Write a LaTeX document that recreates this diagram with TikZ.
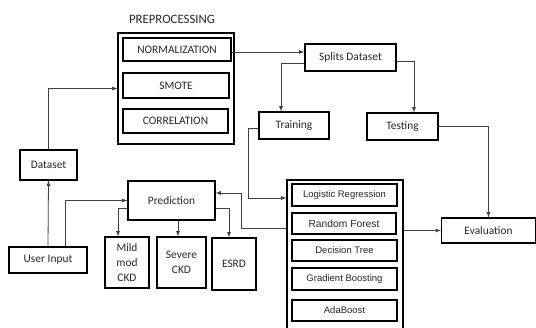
\documentclass[tikz,border=0pt]{standalone}
\usepackage{fontspec}
\setmainfont{Carlito}
\newfontfamily\arialfont{Liberation Sans}
\usepackage{tikz}

\begin{document}
\begin{tikzpicture}[x=1pt, y=-1pt,
    box/.style={draw, line width=1.2pt, inner sep=0pt, text=black!85, font=\fontsize{11.4}{15}\selectfont, align=center},
    mbox/.style={draw, line width=1.2pt, inner sep=0pt, text=black!85, font=\arialfont\fontsize{9.5}{11}\selectfont},
    arr/.style={->, >=latex, draw=black!75, line width=0.8pt}]
            \useasboundingbox (0,0) rectangle (536,327);

            % Nodes
            \node[text=black!85, font=\fontsize{12.8}{14}\selectfont] (preplabel) at (172, 19) {PREPROCESSING};
            \node[box, minimum width=116, minimum height=111] (prep) at (176, 88.5) {};
            \node[box, minimum width=108, minimum height=23] (norm) at (177, 49.5) {NORMALIZATION};
            \node[box, minimum width=106, minimum height=25] (smote) at (176, 85.5) {SMOTE};
            \node[box, minimum width=105, minimum height=24] (corr) at (175.5, 121) {CORRELATION};

            \node[box, minimum width=91, minimum height=27] (split) at (350.5, 57.5) {Splits Dataset};
            \node[box, minimum width=70, minimum height=27] (train) at (294, 125.5) {Training};
            \node[box, minimum width=71, minimum height=27] (test) at (402.5, 126.5) {Testing};

            \node[box, minimum width=57, minimum height=30] (dataset) at (48.5, 165) {Dataset};
            \node[box, minimum width=78, minimum height=26] (userin) at (48, 260) {User Input};
            \node[box, minimum width=87, minimum height=39] (pred) at (171.5, 200.5) {Prediction};
            \node[box, minimum width=44, minimum height=51] (mild) at (127, 262.5) {Mild\\mod\\CKD};
            \node[box, minimum width=49, minimum height=51] (severe) at (181.5, 262.5) {Severe\\CKD};
            \node[box, minimum width=44, minimum height=52] (esrd) at (234, 264) {ESRD};

            % models box runs off the bottom edge
            \node[box, minimum width=116, minimum height=152] (models) at (345, 256) {};
            \node[mbox, minimum width=105, minimum height=22] (lr) at (344.5, 195) {Logistic Regression};
            \node[mbox, minimum width=104, minimum height=21, font=\arialfont\fontsize{10.3}{12}\selectfont] (rf) at (344, 223.5) {Random Forest};
            \node[mbox, minimum width=105, minimum height=21] (dt) at (344.5, 250.5) {Decision Tree};
            \node[mbox, minimum width=105, minimum height=22] (gb) at (344.5, 279) {Gradient Boosting};
            \node[mbox, minimum width=105, minimum height=21] (ada) at (344.5, 310.5) {AdaBoost};

            \node[box, minimum width=94, minimum height=25] (eval) at (488.5, 230.5) {Evaluation};

            % Edges
            \coordinate (normout) at ([yshift=-2.5pt]norm.east);
            \draw[arr] (dataset.north) |- (prep.west);
            \draw[arr] (normout) -- (normout -| split.west);
            \draw[arr] ([yshift=-5.5pt]split.west) -| ([xshift=-13pt]train.north);
            \draw[arr] ([yshift=-3.5pt]split.east) -| ([xshift=11.5pt]test.north);
            \draw[arr] (test.east) -| (eval.north);
            \draw[arr] ([yshift=-2.5pt]train.west) -- ++(-10,0) |- ([yshift=58pt]models.west);
            \draw[arr] ([yshift=28pt]models.west) -- ++(-45,0) |- ([yshift=7.5pt]pred.east);
            \draw[arr] ([yshift=25.5pt]models.east) -- (eval.west);
            \draw[arr] (userin.north) -- (dataset.south);
            \draw[arr] ([xshift=17pt]userin.north) |- (pred.west);
            \draw[arr] ([yshift=-7.5pt]pred.west) -| ([xshift=-9pt]mild.north);
            \draw[arr] ([xshift=6.5pt]pred.south) -- ([xshift=-3.5pt]severe.north);
            \draw[arr] ([yshift=-7.5pt]pred.east) -| ([xshift=-5pt]esrd.north);

        \end{tikzpicture}
\end{document}
